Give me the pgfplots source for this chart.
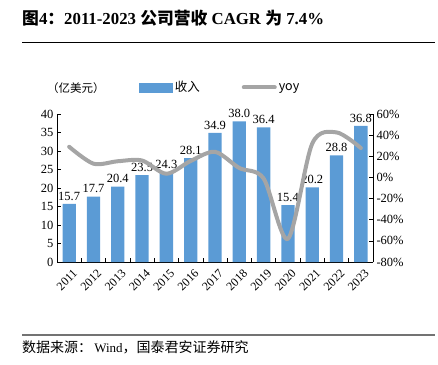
\documentclass[border=0pt]{standalone}
\usepackage{fontspec}
\setmainfont{Liberation Serif}
\newfontfamily\cjk{Noto Sans CJK SC}
\usepackage{pgfplots}
\pgfplotsset{compat=1.18}
\definecolor{barblue}{HTML}{5B9BD5}
\definecolor{linegray}{HTML}{A5A5A5}
\begin{document}
\begin{tikzpicture}
\path[use as bounding box] (0pt,0pt) rectangle (438pt,364pt);
\node[anchor=west,font=\fontsize{16.8}{18}\selectfont\bfseries,inner sep=0pt] at (22pt,346pt) {{\cjk 图}4{\cjk ：}2011-2023 {\cjk 公司营收} CAGR {\cjk 为} 7.4\%};
\draw[black, line width=0.8pt] (22pt,322pt) -- (435pt,322pt);
\draw[black!55, line width=1.5pt] (22pt,29pt) -- (435pt,29pt);
\node[anchor=west, font=\fontsize{13}{15}\selectfont, inner sep=0pt] at (22pt,17pt) {{\cjk\fontsize{14}{16}\selectfont 数据来源：}\,Wind{\cjk\fontsize{14}{16}\selectfont ，国泰君安证券研究}};
\node[anchor=west, font=\fontsize{11.5}{13}\selectfont\cjk, inner sep=0pt] at (47pt,276pt) {（亿美元）};
\begin{axis}[
  at={(57pt,102pt)}, anchor=south west, scale only axis,
  width=316pt, height=148pt,
  xmin=-0.5, xmax=12.5, ymin=0, ymax=40,
  axis y line*=left, axis x line*=bottom,
  axis line style={-, black, line width=0.8pt},
  xtick={-0.5,0.5,...,12.5},
  x tick label as interval,
  xticklabels={2011,2012,2013,2014,2015,2016,2017,2018,2019,2020,2021,2022,2023},
  xticklabel style={rotate=45, anchor=east, font=\fontsize{12}{14}\selectfont, yshift=-11pt, xshift=1pt},
  ytick={0,5,...,40},
  yticklabel style={font=\fontsize{12.5}{14}\selectfont},
  tick align=inside, major tick length=4pt,
  tick style={black, line width=0.6pt},
  /pgf/number format/assume math mode=true,
]
\addplot[ybar, bar width=13.3pt, fill=barblue, draw=none,
  nodes near coords,
  nodes near coords style={font=\fontsize{12.5}{14}\selectfont, black, /pgf/number format/.cd, fixed, fixed zerofill, precision=1, assume math mode=true},
] coordinates {(0,15.7) (1,17.7) (2,20.4) (3,23.5) (4,24.3) (5,28.1) (6,34.9) (7,38.0) (8,36.4) (9,15.4) (10,20.2) (11,28.8) (12,36.8)};
\end{axis}
\begin{axis}[
  at={(57pt,102pt)}, anchor=south west, scale only axis,
  width=316pt, height=148pt,
  xmin=-0.5, xmax=12.5, ymin=-80, ymax=60,
  axis y line*=right, axis x line=none,
  axis line style={-, black, line width=0.8pt},
  ytick={-80,-60,...,60},
  yticklabel={\pgfmathprintnumber{\tick}\%},
  yticklabel style={font=\fontsize{12.5}{14}\selectfont},
  tick align=inside, major tick length=4pt,
  tick style={black, line width=0.6pt},
  /pgf/number format/assume math mode=true,
  legend columns=2,
  legend style={draw=none, fill=none, at={(0.26,1.18)}, anchor=west, font=\fontsize{12.5}{14}\selectfont\cjk,
    /tikz/every even column/.append style={column sep=40pt}, inner sep=0pt},
]
\addlegendimage{legend image code/.code={\fill[barblue] (0pt,-4.5pt) rectangle (33pt,4.5pt);}}
\addlegendentry{收入}
\addplot[linegray, line width=4pt, smooth, tension=0.5, line cap=round,
  legend image code/.code={\draw[linegray, line width=4pt, line cap=round] (2pt,0pt) -- (33pt,0pt);}]
  coordinates {(0,29) (1,13) (2,15.3) (3,16) (4,3.5) (5,15.6) (6,24.2) (7,8.9) (8,-1) (9,-58) (10,32) (11,42.6) (12,27.8)};
\addlegendentry{yoy}
\end{axis}
\end{tikzpicture}
\end{document}
